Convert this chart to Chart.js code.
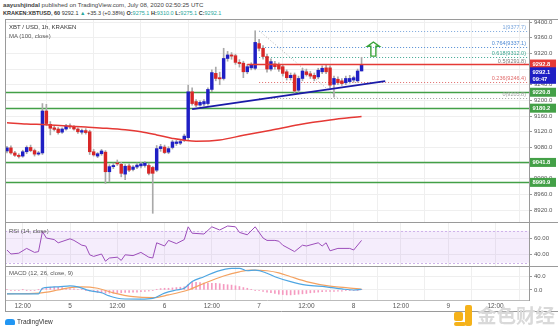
<!DOCTYPE html>
<html><head><meta charset="utf-8">
<script src="https://cdn.jsdelivr.net/npm/chart.js@4.4.1/dist/chart.umd.min.js"></script>
<style>
body{margin:0;width:558px;height:330px;position:relative;background:#fff;overflow:hidden;font-family:"Liberation Sans",Arial,sans-serif;}
canvas{position:absolute;left:0;}
.t{position:absolute;white-space:nowrap;line-height:1;}
.g{color:#26a69a}
</style></head><body>
<div class="t" style="left:3px;top:2px;font-size:6.1px;color:#444"><b>aayushjindal</b> published on TradingView.com, July 08, 2020 02:50:25 UTC</div>
<div class="t" style="left:3px;top:11px;font-size:5.5px;color:#333"><b>KRAKEN:XBTUSD, 60</b> 9292.1 <span class="g">▲</span> +35.3 (+0.38%) <b>O:</b><span class="g">9275.1</span> <b>H:</b><span class="g">9310.0</span> <b>L:</b><span class="g">9275.1</span> <b>C:</b><span class="g">9292.1</span></div>
<canvas id="cMain" width="558" height="203" style="top:19px;width:558px;height:203px"></canvas>
<canvas id="cRsi" width="558" height="44" style="top:222px;width:558px;height:44px"></canvas>
<canvas id="cMacd" width="558" height="46" style="top:266px;width:558px;height:46px"></canvas>
<div class="t" style="left:9px;top:24px;font-size:6px;color:#333">XBT / USD, 1h, KRAKEN</div>
<div class="t" style="left:9px;top:33px;font-size:6px;color:#555">MA (100, close)</div>
<div class="t" style="left:9px;top:228px;font-size:6px;color:#555">RSI (14, close)</div>
<div class="t" style="left:9px;top:270px;font-size:6px;color:#555">MACD (12, 26, close, 9)</div>
<div style="position:absolute;left:5px;top:319px;width:10px;height:6px;border-radius:3px 3px 1px 1px;background:#2196f3"></div>
<div class="t" style="left:17px;top:319px;font-size:6.5px;color:#333">TradingView</div>
<div style="position:absolute;left:454px;top:312px;width:9px;height:9px;border-radius:2px;background:#f5b21a"></div>
<div style="position:absolute;left:465px;top:305px;width:7px;height:21px;border-radius:2px;background:#f5b21a"></div>
<div style="position:absolute;left:454px;top:322px;width:12px;height:4px;border-radius:2px;background:#f5b21a"></div>
<div class="t" style="left:477px;top:305px;font-size:19.5px;color:#d9d9d9;font-family:'Noto Sans CJK SC';font-weight:bold">金色财经</div>
<script>
// ---------- data ----------
const candleHours = [8,9,10,11,12,13,14,15,16,17,18,19,20,21,22,23,24,25,26,27,28,29,30,31,32,33,34,35,36,37,38,39,40,41,42,43,44,45,46,47,48,49,50,51,52,53,54,55,56,57,58,59,60,61,62,63,64,65,66,67,68,69,70,71,72,73,74,75,76,77,78,79,80,81,82,83,84,85,86,87,88,89,90,91,92,93,94,95,96,97,98];
const opens  = [9071,9079,9066,9060,9058,9069,9080,9072,9063,9066,9173,9139,9130,9127,9119,9127,9135,9132,9127,9119,9123,9120,9069,9058,9064,9068,9018,9031,9040,9037,9012,9033,9024,9030,9033,9034,9034,9029,9022,9077,9081,9068,9080,9090,9091,9099,9105,9222,9197,9188,9191,9192,9228,9269,9258,9256,9307,9316,9314,9297,9295,9273,9283,9282,9345,9333,9312,9280,9293,9290,9286,9273,9258,9265,9226,9256,9273,9268,9264,9260,9273,9283,9283,9241,9254,9250,9245,9248,9252,9250,9275.1];
const highs  = [9083,9084,9070,9064,9073,9084,9086,9076,9070,9192,9190,9146,9134,9131,9130,9139,9140,9136,9130,9127,9128,9124,9075,9067,9075,9072,9036,9040,9048,9042,9036,9038,9034,9040,9042,9044,9040,9032,9085,9088,9086,9082,9098,9098,9099,9114,9239,9232,9202,9199,9202,9232,9278,9285,9272,9333,9325,9322,9318,9304,9300,9292,9296,9377.7,9356,9340,9318,9306,9300,9296,9292,9278,9270,9270,9262,9282,9280,9274,9270,9282,9288,9290,9288,9262,9260,9256,9262,9264,9262,9280,9310];
const lows   = [9066,9063,9057,9053,9055,9064,9069,9058,9060,9062,9136,9112,9122,9114,9116,9124,9128,9124,9116,9114,9114,9062,9058,9054,9060,8988,8992,9026,9034,9005,8998,9018,9020,9026,9028,9030,9010,8912,9018,9070,9064,9064,9076,9085,9087,9095,9100,9188,9184,9185,9186,9188,9222,9250,9240,9252,9300,9305,9292,9285,9258,9268,9278,9278,9326,9305,9272,9275,9280,9274,9262,9252,9252,9215,9220,9250,9262,9256,9250,9255,9268,9268,9232,9208,9240,9238,9240,9244,9246,9246,9275.1];
const closes = [9079,9066,9060,9057,9069,9080,9072,9063,9066,9173,9141,9129,9126,9118,9127,9135,9132,9127,9120,9123,9118,9069,9061,9064,9071,9018,9031,9034,9038,9014,9032,9022,9030,9035,9038,9040,9014,9014,9077,9082,9067,9077,9094,9094,9095,9109,9222,9192,9188,9195,9197,9228,9271,9256,9255,9307,9316,9313,9297,9294,9273,9286,9290,9348,9333,9312,9280,9299,9286,9280,9269,9258,9264,9224,9256,9275,9266,9262,9256,9277,9282,9273,9239,9256,9245,9243,9256,9256,9258,9275,9292.1];

const maHours  = [8,13,18,23,28,33,38,42,46,50,56,62,68,75,82,90,98];
const maValues = [9143,9140,9138,9135,9132,9129,9125,9120,9112,9103,9096,9099,9111,9124,9138,9150,9159];

const rsiHours  = [8,9,11,13,15,16,17,18,20,21,24,25,27,28,29,30,32,33,34,36,37,38,40,42,44,45,46,48,49,51,53,54,55,58,60,62,64,66,67,69,71,73,74,76,77,78,81,83,84,87,88,89,90,92,95,96,98];
const rsiValues = [46,41,42,48,43,44,69,61,59,55,60,58,52,51,40,38,41,32,36,37,33,40,39,43,37,36,55,51,58,54,59,75,67,66,75,71,76,75,68,65,75,61,58,58,57,52,44,52,51,55,51,55,45,48,48,46,58];

const macdHours  = [8,16,17,21,24,26,29,32,34,37,42,45,48,51,53,55,58,61,65,67,69,71,74,76,80,84,89,93,96,98];
const macdValues = [-11,-11,5,9,12,9,-2,-8,-17,-25,-26,-24,-9,0,5,24,38,52,62,62,55,57,48,38,24,14,9,3,0,2];
const signalHours  = [8,16,21,24,27,31,35,40,45,49,54,58,63,67,70,74,77,80,84,90,94,98];
const signalValues = [-11,-9,0,7,9,5,-8,-19,-22,-14,0,19,40,52,57,55,49,38,24,11,7,2];
const histValues = [0.6,-0.6,-1,-1,0.6,-0.6,-1,-1,0.6,
  5,7,8,9,8,7,5,4,3,2,1,
  -1,-3,-5,-7,-8,-9,-9,-9,-8,-8,-7,-7,-6,-6,-5,-4,-3,-2,
  2,4,5,5,6,7,8,9,16,22,22,21,20,20,19,19,18,16,15,14,12,10,7,5,2,
  -0.8,-2,-4,-6,-8,-10,-12,-13,-14,-14,-13,-12,-11,-10,-8,-7,-6,-5,-4,-4,-4,-3,-3,-2,-2,-1,-0.8,1];

const priceTicks = [8920,8960,9000,9040,9080,9120,9160,9200,9240,9280,9320,9360,9400];
const rsiTicks = [40,60];
const macdTicks = [0,40];
const timeTickHours = [12,24,36,48,60,72,84,96,108,120,132];
const timeTickLabels = ['12:00','5','12:00','6','12:00','7','12:00','8','12:00','9','12:00'];

const supportLevels = [9220.8,9180.2,9041.8,8990.9];
const resistanceLevel = 9292.8;
const resistanceStartHour = 69;
const fibRatios = ['1','0.764','0.618','0.5','0.236','0'];
const fibPrices = [9377.7,9337.1,9312.0,9291.8,9246.4,9205.8];
const fibStartHour = 72;
const fibEndHour = 92;
const trendStart = [55,9178];
const trendEnd = [104,9249];
const arrowHour = 101;
const arrowPrices = [9349,9338,9313]; // tip, head base, tail
const lastPrice = 9292.1;
const countdown = '09:47';

// ---------- styles ----------
const FONT = 'Liberation Sans';
const GRID = '#efefef';
const FRAME = '#9a9a9a';
const GREEN = '#43a047';
const UP = '#1f1fc4', DOWN = '#d82727';
const fibColors = ['#7aa6dc','#4f8bd4','#3aa58f','#7a7a7a','#e06a6a','#a0a0a0'];

function xScale(show){
  return {type:'linear',min:7.5,max:140.5,offset:false,
    afterBuildTicks:s=>{s.ticks=timeTickHours.map(v=>({value:v}));},
    ticks:{display:show,autoSkip:false,maxRotation:0,font:{size:6.5,family:FONT},color:'#555',padding:2.5,
      callback:v=>{const i=timeTickHours.indexOf(v);return i>=0?timeTickLabels[i]:'';}},
    grid:{color:GRID,drawTicks:false},
    border:{display:show,color:'#bbbbbb'},
    afterFit:s=>{s.height=show?12:0;s.paddingLeft=0;s.paddingRight=0;}};
}
function yScale(min,max,ticks,dec){
  return {position:'right',min:min,max:max,
    afterBuildTicks:s=>{s.ticks=ticks.map(v=>({value:v}));},
    ticks:{autoSkip:false,font:{size:6,family:FONT},color:'#555',padding:2,callback:v=>Number(v).toFixed(dec)},
    grid:{color:GRID,drawTicks:true,tickLength:3,tickColor:'#999'},
    border:{display:true,color:FRAME},
    afterFit:s=>{s.width=29;s.paddingTop=0;s.paddingBottom=0;}};
}
const framePlugin = {id:'frame',afterDraw(c,args,opts){
  const ctx=c.ctx,a=c.chartArea;ctx.save();ctx.strokeStyle=FRAME;ctx.lineWidth=1;ctx.beginPath();
  ctx.moveTo(a.left+0.5,0);ctx.lineTo(a.left+0.5,c.height);
  ctx.moveTo(a.left,0.5);ctx.lineTo(c.width,0.5);
  if(opts&&opts.bottom){ctx.moveTo(a.left,c.height-0.5);ctx.lineTo(c.width,c.height-0.5);}
  ctx.stroke();ctx.restore();}};
const base = {responsive:false,animation:false,devicePixelRatio:1,layout:{padding:{left:5,right:0,top:0,bottom:0}}};

function hline(ctx,x1,x2,y){ctx.beginPath();ctx.moveTo(x1,y);ctx.lineTo(x2,y);ctx.stroke();}

const mainOverlay = {id:'mainOverlay',
 beforeDatasetsDraw(c){
  const ctx=c.ctx,a=c.chartArea,x=c.scales.x,y=c.scales.y;ctx.save();
  ctx.strokeStyle=GREEN;ctx.lineWidth=1.4;
  supportLevels.forEach(p=>hline(ctx,a.left,a.right,Math.round(y.getPixelForValue(p))+0.5));
  ctx.lineWidth=1;ctx.setLineDash([1,2]);
  const fx=x.getPixelForValue(fibStartHour);
  fibPrices.forEach((p,i)=>{ctx.strokeStyle=fibColors[i];hline(ctx,fx,a.right,Math.round(y.getPixelForValue(p))+0.5);});
  ctx.strokeStyle='#b5b5b5';ctx.beginPath();
  ctx.moveTo(fx,y.getPixelForValue(fibPrices[0]));
  ctx.lineTo(x.getPixelForValue(fibEndHour),y.getPixelForValue(fibPrices[5]));ctx.stroke();
  ctx.setLineDash([]);
  ctx.font='5.5px '+FONT;ctx.textAlign='right';ctx.textBaseline='bottom';
  fibPrices.forEach((p,i)=>{ctx.fillStyle=fibColors[i];ctx.fillText(fibRatios[i]+'('+p.toFixed(1)+')',a.right-3,y.getPixelForValue(p)-0.5);});
  ctx.restore();
 },
 afterDatasetsDraw(c){
  const ctx=c.ctx,a=c.chartArea,x=c.scales.x,y=c.scales.y;ctx.save();
  ctx.strokeStyle='#e53935';ctx.lineWidth=1.5;
  hline(ctx,x.getPixelForValue(resistanceStartHour),a.right,Math.round(y.getPixelForValue(resistanceLevel))+0.5);
  ctx.strokeStyle='#1a1aa8';ctx.lineWidth=1.8;ctx.beginPath();
  ctx.moveTo(x.getPixelForValue(trendStart[0]),y.getPixelForValue(trendStart[1]));
  ctx.lineTo(x.getPixelForValue(trendEnd[0]),y.getPixelForValue(trendEnd[1]));ctx.stroke();
  const cx=x.getPixelForValue(arrowHour),t=y.getPixelForValue(arrowPrices[0]),hb=y.getPixelForValue(arrowPrices[1]),tb=y.getPixelForValue(arrowPrices[2]);
  ctx.strokeStyle='#3aa33a';ctx.lineWidth=1.4;ctx.beginPath();
  ctx.moveTo(cx,t);ctx.lineTo(cx+6,hb);ctx.lineTo(cx+2.5,hb);ctx.lineTo(cx+2.5,tb);ctx.lineTo(cx-2.5,tb);ctx.lineTo(cx-2.5,hb);ctx.lineTo(cx-6,hb);ctx.closePath();ctx.stroke();
  ctx.restore();
 },
 afterDraw(c){
  const ctx=c.ctx,a=c.chartArea,y=c.scales.y;ctx.save();
  const boxes=[[resistanceLevel,resistanceLevel.toFixed(1),'#e53935',0],[lastPrice,lastPrice.toFixed(1),UP,7.5],[lastPrice,countdown,UP,15]];
  supportLevels.forEach(p=>boxes.push([p,p.toFixed(1),GREEN,0]));
  ctx.font='bold 5.8px '+FONT;ctx.textAlign='left';ctx.textBaseline='middle';
  boxes.forEach(b=>{const py=y.getPixelForValue(b[0])+b[3];ctx.fillStyle=b[2];ctx.fillRect(a.right+1,py-4.5,26,9);ctx.fillStyle='#fff';ctx.fillText(b[1],a.right+3.5,py+0.3);});
  ctx.restore();
 }};

new Chart(document.getElementById('cMain'),{
  type:'bar',
  data:{datasets:[
    {type:'line',data:maHours.map((h,i)=>({x:h,y:maValues[i]})),borderColor:'#e53935',borderWidth:1.5,pointRadius:0,cubicInterpolationMode:'monotone',order:1},
    {data:candleHours.map((h,i)=>({x:h,y:[opens[i],closes[i]]})),backgroundColor:candleHours.map((h,i)=>closes[i]>=opens[i]?UP:DOWN),barThickness:2.8,minBarLength:1,grouped:false,order:2},
    {data:candleHours.map((h,i)=>({x:h,y:[lows[i],highs[i]]})),backgroundColor:'#a9a9a9',barThickness:1,grouped:false,order:3}
  ]},
  options:Object.assign({},base,{plugins:{legend:{display:false},tooltip:{enabled:false},frame:{}},
    scales:{x:xScale(false),y:yScale(8889.8,9407.7,priceTicks,1)}}),
  plugins:[mainOverlay,framePlugin]
});

const rsiBand = {id:'rsiBand',beforeDatasetsDraw(c){
  const ctx=c.ctx,a=c.chartArea,y=c.scales.y;ctx.save();
  const y1=y.getPixelForValue(70),y2=y.getPixelForValue(30);
  ctx.fillStyle='rgba(170,110,230,0.12)';ctx.fillRect(a.left,y1,a.right-a.left,y2-y1);
  ctx.strokeStyle='#cfb3ea';ctx.lineWidth=1;ctx.setLineDash([2,2]);
  hline(ctx,a.left,a.right,Math.round(y1)+0.5);hline(ctx,a.left,a.right,Math.round(y2)+0.5);
  ctx.restore();}};
new Chart(document.getElementById('cRsi'),{
  type:'line',
  data:{datasets:[{data:rsiHours.map((h,i)=>({x:h,y:rsiValues[i]})),borderColor:'#9c4dba',borderWidth:1,pointRadius:0,tension:0}]},
  options:Object.assign({},base,{plugins:{legend:{display:false},tooltip:{enabled:false},frame:{}},
    scales:{x:xScale(false),y:yScale(26,81,rsiTicks,2)}}),
  plugins:[rsiBand,framePlugin]
});

new Chart(document.getElementById('cMacd'),{
  type:'bar',
  data:{datasets:[
    {type:'line',data:macdHours.map((h,i)=>({x:h,y:macdValues[i]})),borderColor:'#4ea6e2',borderWidth:1.2,pointRadius:0,cubicInterpolationMode:'monotone',order:1},
    {type:'line',data:signalHours.map((h,i)=>({x:h,y:signalValues[i]})),borderColor:'#f4a261',borderWidth:1.2,pointRadius:0,cubicInterpolationMode:'monotone',order:2},
    {data:candleHours.map((h,i)=>({x:h,y:histValues[i]})),backgroundColor:'#f59ac0',barThickness:1,order:3}
  ]},
  options:Object.assign({},base,{plugins:{legend:{display:false},tooltip:{enabled:false},frame:{bottom:true}},
    scales:{x:xScale(true),y:yScale(-28.6,68.6,macdTicks,1)}}),
  plugins:[framePlugin]
});
</script>
</body></html>
